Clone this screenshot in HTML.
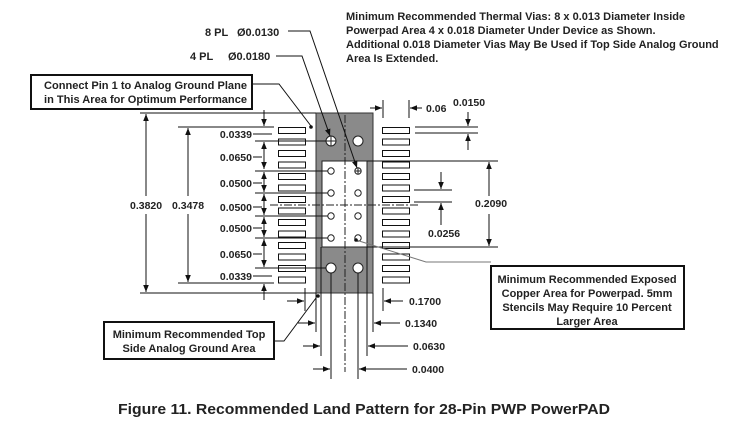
<!DOCTYPE html>
<html><head><meta charset="utf-8"><style>
body{margin:0;background:#fff}
svg{display:block}
text{font-family:"Liberation Sans",Arial,sans-serif;font-weight:bold;fill:#222}
</style></head><body>
<svg width="737" height="425" viewBox="0 0 737 425" xmlns="http://www.w3.org/2000/svg">
<defs>
<marker id="a" viewBox="0 0 10 10" refX="10" refY="5" markerWidth="7" markerHeight="7" orient="auto-start-reverse"><path d="M0,1 L10,5 L0,9 z" fill="#111"/></marker>
</defs>
<g font-size="11">
<text x="346" y="20">Minimum Recommended Thermal Vias: 8 x 0.013 Diameter Inside</text>
<text x="346" y="34">Powerpad Area 4 x 0.018 Diameter Under Device as Shown.</text>
<text x="346" y="48">Additional 0.018 Diameter Vias May Be Used if Top Side Analog Ground</text>
<text x="346" y="62">Area Is Extended.</text>
<text x="205" y="36">8 PL</text><text x="237" y="36">Ø0.0130</text>
<text x="190" y="60">4 PL</text><text x="228" y="60">Ø0.0180</text>
</g>
<rect x="316" y="113" width="57" height="180" fill="#8a8a8a" stroke="#333" stroke-width="1"/>
<rect x="322" y="161" width="45" height="86" fill="#fff" stroke="#222" stroke-width="1"/>
<g fill="#fff" stroke="#111" stroke-width="1">
<rect x="278.5" y="127.5" width="27" height="6"/><rect x="278.5" y="139" width="27" height="6"/><rect x="278.5" y="150.5" width="27" height="6"/><rect x="278.5" y="162" width="27" height="6"/><rect x="278.5" y="173.5" width="27" height="6"/><rect x="278.5" y="185" width="27" height="6"/><rect x="278.5" y="196.5" width="27" height="6"/><rect x="278.5" y="208" width="27" height="6"/><rect x="278.5" y="219.5" width="27" height="6"/><rect x="278.5" y="231" width="27" height="6"/><rect x="278.5" y="242.5" width="27" height="6"/><rect x="278.5" y="254" width="27" height="6"/><rect x="278.5" y="265.5" width="27" height="6"/><rect x="278.5" y="277" width="27" height="6"/>
<rect x="382.5" y="127.5" width="27" height="6"/><rect x="382.5" y="139" width="27" height="6"/><rect x="382.5" y="150.5" width="27" height="6"/><rect x="382.5" y="162" width="27" height="6"/><rect x="382.5" y="173.5" width="27" height="6"/><rect x="382.5" y="185" width="27" height="6"/><rect x="382.5" y="196.5" width="27" height="6"/><rect x="382.5" y="208" width="27" height="6"/><rect x="382.5" y="219.5" width="27" height="6"/><rect x="382.5" y="231" width="27" height="6"/><rect x="382.5" y="242.5" width="27" height="6"/><rect x="382.5" y="254" width="27" height="6"/><rect x="382.5" y="265.5" width="27" height="6"/><rect x="382.5" y="277" width="27" height="6"/>
</g>
<g fill="#fff" stroke="#222" stroke-width="1">
<circle cx="331" cy="141" r="5"/><circle cx="358" cy="141" r="5"/>
<circle cx="331" cy="268" r="5"/><circle cx="358" cy="268" r="5"/>
<circle cx="331" cy="171" r="3.2"/><circle cx="358" cy="171" r="3.2"/>
<circle cx="331" cy="193" r="3.2"/><circle cx="358" cy="193" r="3.2"/>
<circle cx="331" cy="216" r="3.2"/><circle cx="358" cy="216" r="3.2"/>
<circle cx="331" cy="238" r="3.2"/><circle cx="358" cy="238" r="3.2"/>
</g>
<path d="M326,141h10M331,136v10M355,171h6M358,168v6" stroke="#222" stroke-width="1"/>
<g stroke="#222" stroke-width="1" stroke-dasharray="8,2,2,2" fill="none">
<line x1="345" y1="115" x2="345" y2="372"/>
<line x1="270" y1="205" x2="420" y2="205"/>
</g>
<g stroke="#111" stroke-width="1" fill="none">
<line x1="140" y1="113" x2="316" y2="113"/><line x1="140" y1="293" x2="316" y2="293"/>
<line x1="146" y1="114" x2="146" y2="196" marker-start="url(#a)"/><line x1="146" y1="214" x2="146" y2="292" marker-end="url(#a)"/>
<line x1="178" y1="127" x2="274" y2="127"/><line x1="178" y1="283" x2="274" y2="283"/>
<line x1="188" y1="128" x2="188" y2="196" marker-start="url(#a)"/><line x1="188" y1="214" x2="188" y2="282" marker-end="url(#a)"/>
<line x1="255" y1="141" x2="326" y2="141"/><line x1="255" y1="171" x2="328" y2="171"/><line x1="255" y1="193" x2="328" y2="193"/><line x1="255" y1="216" x2="328" y2="216"/><line x1="255" y1="238" x2="328" y2="238"/><line x1="255" y1="268" x2="326" y2="268"/>
<line x1="264" y1="110" x2="264" y2="126" marker-end="url(#a)"/>
<line x1="264" y1="142" x2="264" y2="169" marker-start="url(#a)" marker-end="url(#a)"/>
<line x1="264" y1="172" x2="264" y2="192" marker-start="url(#a)" marker-end="url(#a)"/>
<line x1="264" y1="194" x2="264" y2="215" marker-start="url(#a)" marker-end="url(#a)"/>
<line x1="264" y1="217" x2="264" y2="237" marker-start="url(#a)" marker-end="url(#a)"/>
<line x1="264" y1="239" x2="264" y2="267" marker-start="url(#a)" marker-end="url(#a)"/>
<line x1="264" y1="300" x2="264" y2="284" marker-end="url(#a)"/>
<line x1="253" y1="134" x2="272" y2="134"/><line x1="253" y1="157" x2="262" y2="157"/><line x1="253" y1="183" x2="262" y2="183"/><line x1="253" y1="207" x2="262" y2="207"/><line x1="253" y1="228" x2="262" y2="228"/><line x1="253" y1="254" x2="262" y2="254"/><line x1="253" y1="276" x2="272" y2="276"/>
<line x1="383" y1="100" x2="383" y2="118"/><line x1="409" y1="100" x2="409" y2="118"/>
<line x1="370" y1="108" x2="382" y2="108" marker-end="url(#a)"/><line x1="422" y1="108" x2="410" y2="108" marker-end="url(#a)"/>
<line x1="415" y1="127" x2="478" y2="127"/><line x1="415" y1="133" x2="478" y2="133"/>
<line x1="468" y1="112" x2="468" y2="126" marker-end="url(#a)"/><line x1="468" y1="150" x2="468" y2="134" marker-end="url(#a)"/>
<line x1="367" y1="161" x2="498" y2="161"/><line x1="367" y1="247" x2="498" y2="247"/>
<line x1="489" y1="162" x2="489" y2="196" marker-start="url(#a)"/><line x1="489" y1="214" x2="489" y2="246" marker-end="url(#a)"/>
<line x1="414" y1="190" x2="452" y2="190"/><line x1="414" y1="202" x2="452" y2="202"/>
<line x1="441" y1="172" x2="441" y2="189" marker-end="url(#a)"/><line x1="441" y1="225" x2="441" y2="203" marker-end="url(#a)"/>
<line x1="305" y1="288" x2="305" y2="311"/><line x1="383" y1="288" x2="383" y2="311"/>
<line x1="316" y1="293" x2="316" y2="332"/><line x1="373" y1="293" x2="373" y2="332"/>
<line x1="321" y1="247" x2="321" y2="356"/><line x1="367" y1="247" x2="367" y2="356"/>
<line x1="331" y1="273" x2="331" y2="379"/><line x1="358" y1="273" x2="358" y2="379"/>
<line x1="287" y1="301" x2="304" y2="301" marker-end="url(#a)"/><line x1="403" y1="301" x2="384" y2="301" marker-end="url(#a)"/>
<line x1="298" y1="323" x2="315" y2="323" marker-end="url(#a)"/><line x1="400" y1="323" x2="374" y2="323" marker-end="url(#a)"/>
<line x1="303" y1="346" x2="320" y2="346" marker-end="url(#a)"/><line x1="408" y1="346" x2="368" y2="346" marker-end="url(#a)"/>
<line x1="313" y1="369" x2="330" y2="369" marker-end="url(#a)"/><line x1="407" y1="369" x2="359" y2="369" marker-end="url(#a)"/>
<polyline points="288,31 310,31 357,168" marker-end="url(#a)"/>
<polyline points="276,56 302,56 330,136" marker-end="url(#a)"/>
<polyline points="252,84 279,84 311,126"/>
<polyline points="274,341 284,341 316,298"/>
<polyline points="356,240 426,262 491,262" stroke="#777"/>
</g>
<circle cx="311" cy="127" r="1.8" fill="#111"/><circle cx="318" cy="296" r="1.8" fill="#111"/><circle cx="356" cy="240" r="1.8" fill="#111"/>
<g font-size="10.5">
<text x="130" y="209">0.3820</text><text x="172" y="209">0.3478</text>
<g text-anchor="end"><text x="252" y="138">0.0339</text><text x="252" y="161">0.0650</text><text x="252" y="187">0.0500</text><text x="252" y="211">0.0500</text><text x="252" y="232">0.0500</text><text x="252" y="258">0.0650</text><text x="252" y="280">0.0339</text></g>
<text x="426" y="112">0.06</text><text x="453" y="106">0.0150</text>
<text x="475" y="207">0.2090</text><text x="428" y="237">0.0256</text>
<text x="409" y="305">0.1700</text><text x="405" y="327">0.1340</text><text x="413" y="350">0.0630</text><text x="412" y="373">0.0400</text>
</g>
<rect x="31" y="75" width="221" height="34" fill="#fff" stroke="#111" stroke-width="2"/>
<text x="44" y="89" font-size="11" textLength="203" lengthAdjust="spacingAndGlyphs">Connect Pin 1 to Analog Ground Plane</text>
<text x="44" y="103" font-size="11" textLength="203" lengthAdjust="spacingAndGlyphs">in This Area for Optimum Performance</text>
<rect x="104" y="322" width="170" height="37" fill="#fff" stroke="#111" stroke-width="2"/>
<text x="189" y="338" font-size="11" text-anchor="middle">Minimum Recommended Top</text>
<text x="189" y="352" font-size="11" text-anchor="middle">Side Analog Ground Area</text>
<rect x="491" y="266" width="193" height="63" fill="#fff" stroke="#111" stroke-width="2"/>
<g font-size="11" text-anchor="middle"><text x="587" y="283">Minimum Recommended Exposed</text><text x="587" y="297">Copper Area for Powerpad. 5mm</text><text x="587" y="311">Stencils May Require 10 Percent</text><text x="587" y="325">Larger Area</text></g>
<text x="118" y="414" font-size="14.5" textLength="492" lengthAdjust="spacingAndGlyphs">Figure 11. Recommended Land Pattern for 28-Pin PWP PowerPAD</text>
</svg>
</body></html>
